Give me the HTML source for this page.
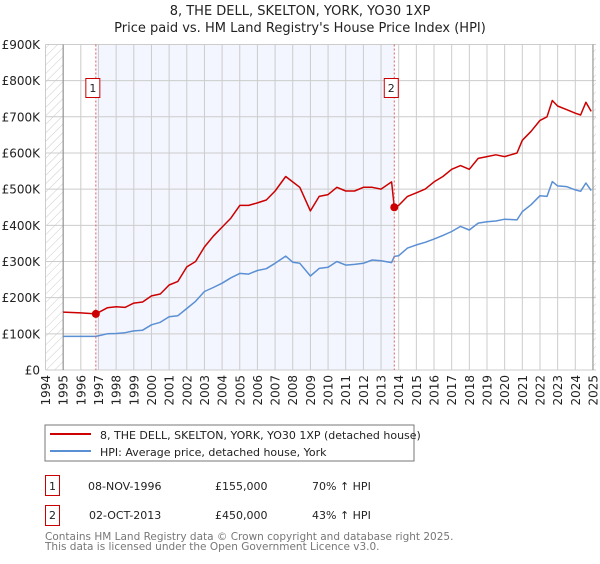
<!DOCTYPE html>
<html><head><meta charset="utf-8"><style>
body{margin:0;background:#fff;font-family:"DejaVu Sans","Liberation Sans",sans-serif;}
svg text{font-family:"DejaVu Sans","Liberation Sans",sans-serif;}
</style></head><body>
<svg id="chart" width="600" height="560" viewBox="0 0 600 560" xmlns="http://www.w3.org/2000/svg">
<defs><pattern id="hatch" patternUnits="userSpaceOnUse" width="6" height="6" patternTransform="rotate(45)"><line x1="0" y1="0" x2="0" y2="6" stroke="#ccc" stroke-width="1"/></pattern></defs>
<text x="300" y="15" text-anchor="middle" font-size="13" fill="#222">8, THE DELL, SKELTON, YORK, YO30 1XP</text>
<text x="300" y="32" text-anchor="middle" font-size="13" fill="#222">Price paid vs. HM Land Registry's House Price Index (HPI)</text>
<g id="grid"></g><g id="series"></g><g id="axes"></g>
<rect x="45" y="425" width="369" height="36" fill="#fff" stroke="#777"/>
<line x1="50" y1="434" x2="91" y2="434" stroke="#cc0000" stroke-width="2"/>
<text x="100" y="439" font-size="11" fill="#222">8, THE DELL, SKELTON, YORK, YO30 1XP (detached house)</text>
<line x1="50" y1="451" x2="91" y2="451" stroke="#5b8fd4" stroke-width="2"/>
<text x="100" y="456" font-size="11" fill="#222">HPI: Average price, detached house, York</text>
<rect x="45.5" y="475.5" width="14" height="20" fill="#fff" stroke="#cc0000"/>
<text x="52.5" y="490" text-anchor="middle" font-size="11" fill="#222">1</text>
<text x="88" y="490" font-size="11" fill="#222">08-NOV-1996</text>
<text x="215" y="490" font-size="11" fill="#222">£155,000</text>
<text x="312" y="490" font-size="11" fill="#222">70% ↑ HPI</text>
<rect x="45.5" y="505.5" width="14" height="20" fill="#fff" stroke="#cc0000"/>
<text x="52.5" y="519" text-anchor="middle" font-size="11" fill="#222">2</text>
<text x="89" y="519" font-size="11" fill="#222">02-OCT-2013</text>
<text x="215" y="519" font-size="11" fill="#222">£450,000</text>
<text x="312" y="519" font-size="11" fill="#222">43% ↑ HPI</text>
<text x="45" y="540" font-size="10.5" fill="#777">Contains HM Land Registry data © Crown copyright and database right 2025.</text>
<text x="45" y="550" font-size="10.5" fill="#777">This data is licensed under the Open Government Licence v3.0.</text>
</svg>
<script>
const years=[1995,1996,1996.85,1997.5,1998,1998.5,1999,1999.5,2000,2000.5,2001,2001.5,2002,2002.5,2003,2003.5,2004,2004.5,2005,2005.5,2006,2006.5,2007,2007.6,2008,2008.4,2009,2009.5,2010,2010.5,2011,2011.5,2012,2012.5,2013,2013.6,2013.75,2014,2014.5,2015,2015.5,2016,2016.5,2017,2017.5,2018,2018.5,2019,2019.5,2020,2020.7,2021,2021.5,2022,2022.4,2022.7,2023,2023.5,2024,2024.3,2024.6,2024.9];
const hpiValues=[93,93,93,100,101,103,108,110,125,132,147,150,170,190,217,228,240,255,267,265,275,280,295,315,298,295,260,281,284,300,290,292,295,304,302,297,314,316,337,346,353,362,372,383,397,387,406,410,412,417,415,438,457,482,480,521,509,507,498,494,517,496];
const propValues=[160,158,155,172,175,173,185,188,205,210,235,245,285,300,340,370,395,420,455,455,462,470,495,535,520,505,440,480,485,505,495,495,505,505,500,520,450,455,480,490,500,520,535,555,565,555,585,590,595,590,600,635,660,690,700,745,730,720,710,705,740,715];
const yTicks=[0,100,200,300,400,500,600,700,800,900];
const yTickLabels=["£0","£100K","£200K","£300K","£400K","£500K","£600K","£700K","£800K","£900K"];
const xTicks=[1994,1995,1996,1997,1998,1999,2000,2001,2002,2003,2004,2005,2006,2007,2008,2009,2010,2011,2012,2013,2014,2015,2016,2017,2018,2019,2020,2021,2022,2023,2024,2025];
const sales=[{t:1996.85,v:155,label:"1"},{t:2013.75,v:450,label:"2"}];
const NS="http://www.w3.org/2000/svg";
const X=t=>45.5+(t-1994)*17.66, Y=v=>370-v*0.3617;
function mk(tag,attrs,parent){const e=document.createElementNS(NS,tag);for(const k in attrs)e.setAttribute(k,attrs[k]);parent.appendChild(e);return e;}
const grid=document.getElementById('grid'),ser=document.getElementById('series'),ax=document.getElementById('axes');
let r=mk('rect',{x:X(1996.85),y:Y(900),width:X(2013.75)-X(1996.85),height:Y(0)-Y(900),fill:'#f3f6fe'},grid);


r=mk('rect',{x:X(1994),y:Y(900),width:X(1995)-X(1994),height:Y(0)-Y(900),fill:'url(#hatch)'},grid);


r=mk('rect',{x:X(2025),y:Y(900),width:3,height:Y(0)-Y(900),fill:'url(#hatch)'},grid);


yTicks.forEach((v,i)=>{
 let l=mk('line',{x1:X(1994),x2:X(2025)+3,y1:Y(v),y2:Y(v),stroke:'#ccc'},grid);
 
 
 let t=mk('text',{x:40,y:Y(v)+4.5,'text-anchor':'end','font-size':'12',fill:'#222'},ax);
 t.textContent=yTickLabels[i];
 
 
});
xTicks.forEach(yr=>{
 let l=mk('line',{x1:X(yr),x2:X(yr),y1:Y(900),y2:Y(0),stroke:'#ccc'},grid);
 
 
 let t=mk('text',{x:0,y:0,'text-anchor':'end','font-size':'12',fill:'#222',transform:`translate(${X(yr)+4.5},375) rotate(-90)`},ax);
 t.textContent=yr;
 
 
});
let al=mk('line',{x1:X(1995),x2:X(1995),y1:Y(900),y2:Y(0),stroke:'#888'},grid);


al=mk('line',{x1:X(2025),x2:X(2025),y1:Y(900),y2:Y(0),stroke:'#888'},grid);


function path(vals,col,name){
 const d=vals.map((v,i)=>(i?'L':'M')+X(years[i]).toFixed(1)+','+Y(v).toFixed(1)).join('');
 const p=mk('path',{d:d,fill:'none',stroke:col,'stroke-width':'1.5','stroke-linejoin':'round'},ser);
 
 
}
path(hpiValues,'#5b8fd4','hpi-line');
path(propValues,'#cc0000','property-price-line');
sales.forEach(s=>{
 let l=mk('line',{x1:X(s.t),x2:X(s.t),y1:Y(900),y2:Y(0),stroke:'#e06060','stroke-dasharray':'2,2'},ser);
 
 
 let c=mk('circle',{cx:X(s.t),cy:Y(s.v),r:4,fill:'#cc0000'},ser);
 
 
 let b=mk('rect',{x:X(s.t)-10,y:78.5,width:14,height:19,fill:'#fff',stroke:'#cc0000'},ser);
 
 
 let t=mk('text',{x:X(s.t)-3,y:92,'text-anchor':'middle','font-size':'11',fill:'#222'},ser);
 t.textContent=s.label;
 
 
});
</script>
</body></html>
